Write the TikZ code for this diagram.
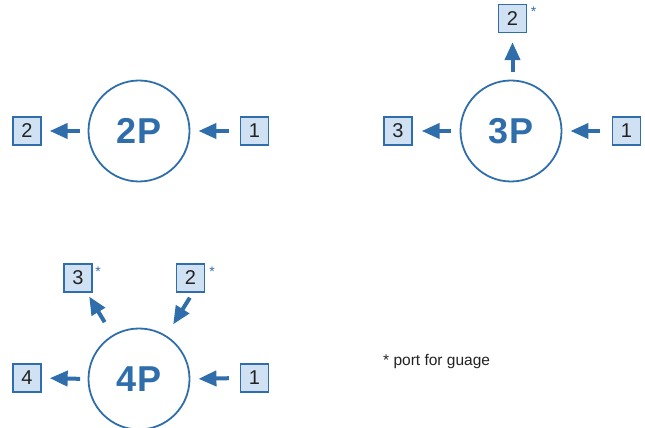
\documentclass[tikz,border=0pt]{standalone}
\usepackage{fontspec}
\setmainfont{Liberation Sans}
\usetikzlibrary{arrows.meta,calc}
\definecolor{pblue}{RGB}{47,110,171}
\definecolor{pfill}{RGB}{207,225,242}
\definecolor{ptext}{RGB}{34,34,34}
\tikzset{
  pump/.style={circle, draw=pblue, line width=1.8pt, minimum size=101pt, inner sep=0pt,
    text=pblue, font=\fontsize{36}{36}\selectfont\bfseries},
  port/.style={rectangle, draw=pblue, fill=pfill, line width=1.3pt, minimum size=28pt, inner sep=0pt,
    text=ptext, font=\fontsize{20}{20}\selectfont},
  ast/.style={text=pblue, inner sep=0pt, font=\fontsize{14}{14}\selectfont},
  arr/.style={draw=pblue, line width=4pt, -{Triangle[length=18pt,width=15pt]}},
  note/.style={text=ptext, inner sep=0pt, font=\fontsize{15.5}{15.5}\selectfont}
}
\begin{document}
\begin{tikzpicture}[x=1pt,y=1pt]
\useasboundingbox (0,0) rectangle (645,428);
% 2P
\node[pump] (c2) at (139,297) {2P};
\node[port] (b21) at (254.5,297) {1};
\node[port] (b22) at (27,297) {2};
\draw[arr, shorten <=11pt, shorten >=8pt] (b21.west) -- (c2.east);
\draw[arr, shorten <=7.5pt, shorten >=8pt] (c2.west) -- (b22.east);
% 3P
\node[pump] (c3) at (511,297) {3P};
\node[port] (b31) at (626.5,297) {1};
\node[port] (b33) at (398,297) {3};
\node[port] (b32) at (512.5,409.5) {2};
\node[ast] (a32) at ($(b32.north east)+(6.5,-8)$) {*};
\draw[arr, shorten <=12pt, shorten >=8pt] (b31.west) -- (c3.east);
\draw[arr, shorten <=9pt, shorten >=9pt] (c3.west) -- (b33.east);
\draw[arr, shorten <=7.5pt, shorten >=9pt] (c3.north -| b32.south) -- (b32.south);
% 4P
\node[pump] (c4) at (139,49) {4P};
\node[port] (b41) at (254.5,50) {1};
\node[port] (b44) at (27,50) {4};
\node[port] (b43) at (78,150) {3};
\node[port] (b42) at (190.5,150) {2};
\node[ast] (a43) at ($(b43.north east)+(5.5,-8)$) {*};
\node[ast] (a42) at ($(b42.north east)+(7,-8)$) {*};
\draw[arr, shorten <=11pt, shorten >=8pt] (b41.west) -- (c4.east);
\draw[arr, shorten <=7.5pt, shorten >=8pt] (c4.west) -- (b44.east);
\draw[arr, shorten <=15pt, shorten >=4.5pt] (c4) -- (b43);
\draw[arr, shorten <=6pt, shorten >=13pt] ($(b42.south)+(2.5,0)$) -- (c4);
% note
\node[note, anchor=base west] (n) at (383,62) {* port for guage};
\end{tikzpicture}
\end{document}
